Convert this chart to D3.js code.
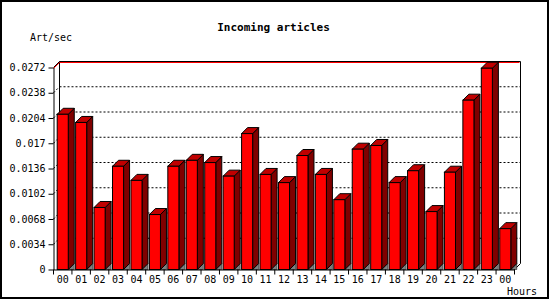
<!DOCTYPE html>
<html>
<head>
<meta charset="utf-8">
<script src="https://cdn.jsdelivr.net/npm/d3@7"></script>
<style>
  body { margin: 0; background: #fff; }
  text { font-family: "DejaVu Sans Mono", monospace; }
</style>
</head>
<body>
<div id="chart"></div>
<script>
// Hour labels (the last 00 is the next day)
const HOURS = ['00','01','02','03','04','05','06','07','08','09','10','11',
               '12','13','14','15','16','17','18','19','20','21','22','23','00'];
// Articles per second
const RATES = [0.0209, 0.0198, 0.00835, 0.0139, 0.0120, 0.0074, 0.0139, 0.0147,
               0.0144, 0.01257, 0.0183, 0.0128, 0.0117, 0.01535, 0.0128, 0.0094,
               0.0162, 0.0167, 0.0117, 0.0133, 0.0078, 0.0131, 0.0228, 0.0271, 0.0055];
const Y_TICKS = [0, 0.0034, 0.0068, 0.0102, 0.0136, 0.017, 0.0204, 0.0238, 0.0272];

const W = 550, H = 300;
const DX = 6, DY = 6;   // 3d depth
const plotLeft = 53.5, plotRight = 514.5, plotBottom = 269.5, plotTop = 67.5;

const svg = d3.select('#chart').append('svg')
    .attr('width', W).attr('height', H);

// outer frame
svg.append('rect')
    .attr('x', 1).attr('y', 1).attr('width', 547).attr('height', 297)
    .attr('fill', '#fff').attr('stroke', '#000').attr('stroke-width', 2);

const x = d3.scaleBand()
    .domain(d3.range(HOURS.length))
    .range([plotLeft, plotRight])
    .paddingInner(0.4).paddingOuter(0.2);

const y = d3.scaleLinear()
    .domain([0, Y_TICKS[Y_TICKS.length - 1]])
    .range([plotBottom, plotTop]);

// back plane gridlines (dotted)
svg.append('g')
    .selectAll('line')
    .data(Y_TICKS.slice(1, -1))
    .enter().append('line')
    .attr('x1', plotLeft + DX).attr('x2', plotRight + DX)
    .attr('y1', d => y(d) - DY).attr('y2', d => y(d) - DY)
    .attr('stroke', '#000').attr('stroke-dasharray', '2,2');

// grid segments on the left wall
svg.append('g')
    .selectAll('line')
    .data(Y_TICKS.slice(1, -1))
    .enter().append('line')
    .attr('x1', plotLeft).attr('x2', plotLeft + DX)
    .attr('y1', d => y(d)).attr('y2', d => y(d) - DY)
    .attr('stroke', '#000').attr('stroke-dasharray', '2,2');

// back plane frame
const yTopBack = y(Y_TICKS[Y_TICKS.length - 1]) - DY;
svg.append('line')
    .attr('x1', plotLeft + DX).attr('x2', plotLeft + DX)
    .attr('y1', yTopBack).attr('y2', plotBottom - DY)
    .attr('stroke', '#000');
svg.append('line')
    .attr('x1', plotRight + DX).attr('x2', plotRight + DX)
    .attr('y1', yTopBack).attr('y2', plotBottom - DY)
    .attr('stroke', '#000');
svg.append('line')
    .attr('x1', plotRight).attr('x2', plotRight + DX)
    .attr('y1', plotBottom).attr('y2', plotBottom - DY)
    .attr('stroke', '#000');
// top edge: black with red beneath
svg.append('polyline')
    .attr('points', `${plotLeft},${plotTop} ${plotLeft + DX},${yTopBack} ${plotRight + DX},${yTopBack}`)
    .attr('fill', 'none').attr('stroke', '#000');
svg.append('polyline')
    .attr('points', `${plotLeft},${plotTop + 1} ${plotLeft + DX},${yTopBack + 1} ${plotRight + DX - 1},${yTopBack + 1}`)
    .attr('fill', 'none').attr('stroke', '#f00');

// bars
const bars = svg.append('g').selectAll('g')
    .data(RATES)
    .enter().append('g');

bars.each(function(d, i) {
    const g = d3.select(this);
    const x1 = x(i), x2 = x(i) + x.bandwidth();
    const yt = y(d), y0 = y(0);
    // floor shadow triangle
    g.append('polygon')
        .attr('points', `${x2},${y0} ${x2 + DX},${y0 - DY} ${x2 + DX},${y0}`)
        .attr('fill', '#808080').attr('stroke', '#000').attr('stroke-width', 0.5);
    // side
    g.append('polygon')
        .attr('points', `${x2},${yt} ${x2 + DX},${yt - DY} ${x2 + DX},${y0 - DY} ${x2},${y0}`)
        .attr('fill', '#800000').attr('stroke', '#000');
    // top
    g.append('polygon')
        .attr('points', `${x1},${yt} ${x1 + DX},${yt - DY} ${x2 + DX},${yt - DY} ${x2},${yt}`)
        .attr('fill', '#c00000').attr('stroke', '#000');
    // front
    g.append('rect')
        .attr('x', x1).attr('y', yt)
        .attr('width', x.bandwidth()).attr('height', y0 - yt)
        .attr('fill', '#ff0000').attr('stroke', '#000');
});

// y axis
const fmt = v => v === 0 ? '0' : d3.format('.4f')(v).replace(/0+$/, '');
const yAxis = svg.append('g')
    .attr('transform', `translate(${plotLeft},0)`)
    .call(d3.axisLeft(y).tickValues(Y_TICKS).tickFormat(fmt)
        .tickSize(5).tickPadding(3).tickSizeOuter(0));
yAxis.select('.domain').attr('stroke', '#000');
yAxis.selectAll('text').attr('font-size', 10).attr('font-family', '"DejaVu Sans Mono", monospace')
    .attr('fill', '#000');

// x axis with ticks at slot boundaries
const xAxis = svg.append('g')
    .attr('transform', `translate(0,${plotBottom})`)
    .call(d3.axisBottom(x).tickFormat(i => HOURS[i]).tickSize(0).tickPadding(6.5).tickSizeOuter(0));
xAxis.select('.domain').attr('stroke', '#000');
xAxis.selectAll('text').attr('font-size', 10).attr('font-family', '"DejaVu Sans Mono", monospace')
    .attr('fill', '#000');
svg.append('g').selectAll('line')
    .data(d3.range(HOURS.length + 1))
    .enter().append('line')
    .attr('x1', i => plotLeft + i * x.step()).attr('x2', i => plotLeft + i * x.step())
    .attr('y1', plotBottom).attr('y2', plotBottom + 5)
    .attr('stroke', '#000');

// titles
svg.append('text')
    .attr('x', 273.5).attr('y', 30.5)
    .attr('text-anchor', 'middle')
    .attr('font-size', 11).attr('font-weight', 'bold')
    .text('Incoming articles');
svg.append('text')
    .attr('x', 30).attr('y', 40.5)
    .attr('font-size', 10)
    .text('Art/sec');
svg.append('text')
    .attr('x', 537).attr('y', 295)
    .attr('text-anchor', 'end')
    .attr('font-size', 10)
    .text('Hours');
</script>
</body>
</html>
